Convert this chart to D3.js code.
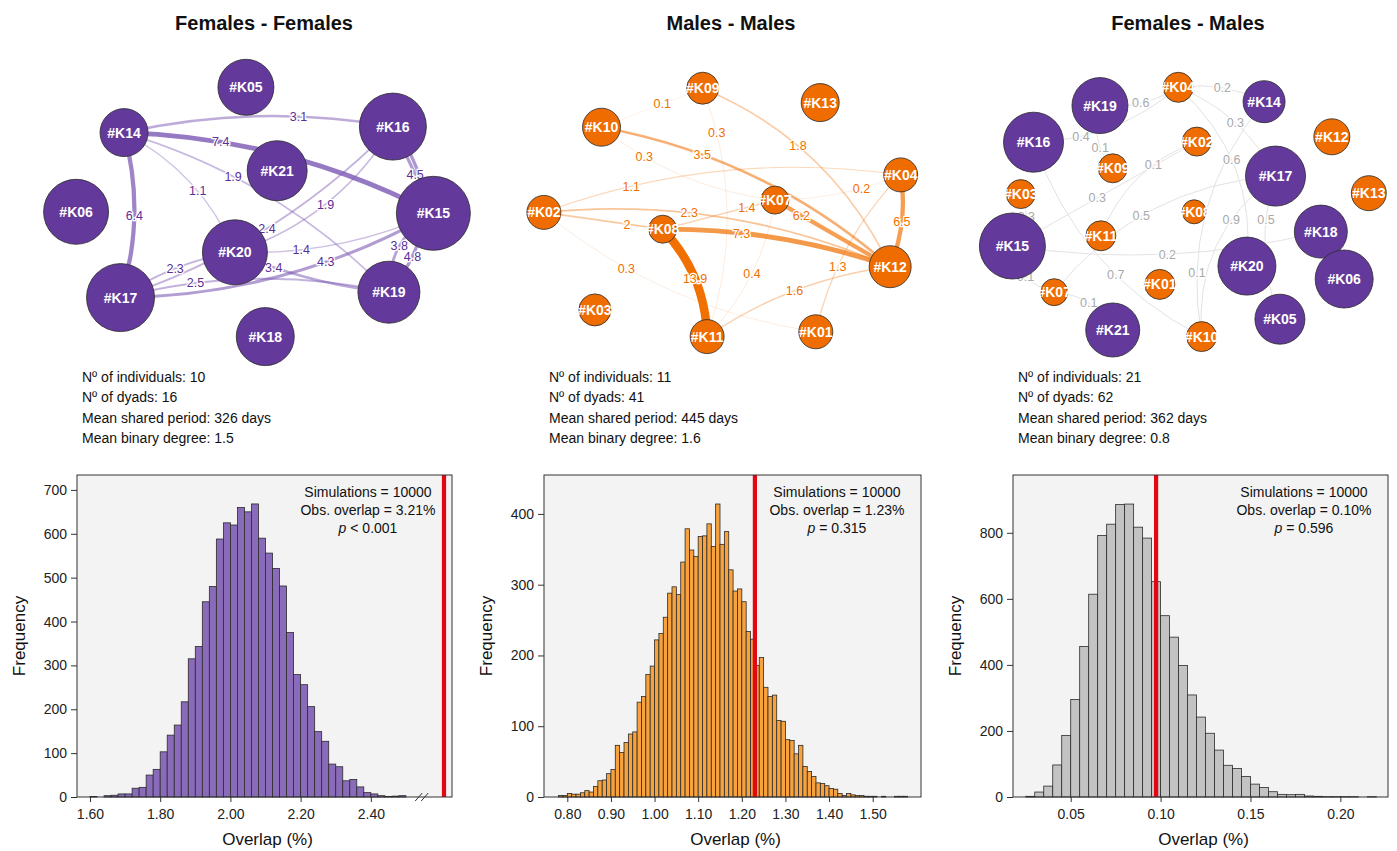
<!DOCTYPE html>
<html>
<head>
<meta charset="utf-8">
<script src="https://cdn.jsdelivr.net/npm/d3@7"></script>
<style>
    body { margin: 0; background: #fff; }
    svg text { font-family: "Liberation Sans", Arial, Helvetica, sans-serif; }
</style>
</head>
<body>
<svg id="fig" width="1397" height="851"></svg>
<script>
// ---------- data ----------
const panelTitles = ["Females - Females", "Males - Males", "Females - Males"]
const statLabels = ["Nº of individuals: ", "Nº of dyads: ", "Mean shared period: ", "Mean binary degree: "]
const statUnits = ["", "", " days", ""]
const ffStats = [10, 16, 326, 1.5]
const mmStats = [11, 41, 445, 1.6]
const fmStats = [21, 62, 362, 0.8]

// network nodes, layout in 0-100 units, node size
const ffNodes = ["#K05", "#K14", "#K16", "#K21", "#K06", "#K15", "#K20", "#K17", "#K19", "#K18"]
const ffLayout = [[46.8, 9.1], [19.1, 24.2], [80.2, 22.2], [53.9, 36.9], [8.2, 50.6],
    [89.4, 51.1], [44.3, 64.1], [18.3, 79.2], [79.3, 77.4], [51.2, 92.2]]
const ffSize = [28, 24, 33.5, 30, 32.5, 37, 32.5, 34, 31, 29]
const ffEdges = [
    ["#K14", "#K16", 3.1], ["#K14", "#K15", 7.4], ["#K14", "#K17", 6.4], ["#K14", "#K20", 1.1],
    ["#K14", "#K19", 1.9], ["#K17", "#K20", 2.3], ["#K17", "#K16", 2.4], ["#K20", "#K16", 1.9],
    ["#K17", "#K19", 2.5], ["#K17", "#K15", 4.3], ["#K20", "#K19", 3.4], ["#K20", "#K15", 1.4],
    ["#K15", "#K19", 3.8], ["#K16", "#K19", 4.8], ["#K16", "#K15", 4.5],
]

const mmNodes = ["#K09", "#K13", "#K10", "#K04", "#K07", "#K02", "#K08", "#K12", "#K03", "#K11", "#K01"]
const mmLayout = [[43.8, 9.4], [70.5, 14.2], [20.8, 22.4], [88.8, 38.3], [60.2, 46.7], [7.7, 50.8],
    [34.7, 56.4], [86.4, 68.9], [19.3, 83.3], [44.8, 92.2], [69.5, 90.6]]
const mmSize = [16, 19, 19, 17, 14, 17, 14, 21, 16, 17, 17]
const mmEdges = [
    ["#K10", "#K09", 0.1], ["#K09", "#K11", 0.3], ["#K09", "#K12", 1.8], ["#K10", "#K12", 3.5],
    ["#K10", "#K07", 0.3], ["#K02", "#K04", 1.1], ["#K07", "#K04", 0.2], ["#K07", "#K12", 6.2],
    ["#K08", "#K07", 1.4], ["#K02", "#K12", 2.3], ["#K02", "#K08", 2], ["#K08", "#K12", 7.3],
    ["#K02", "#K01", 0.3], ["#K08", "#K11", 13.9], ["#K11", "#K07", 0.4], ["#K04", "#K01", 1.3],
    ["#K04", "#K12", 6.5], ["#K11", "#K12", 1.6],
]

const fmNodes = ["#K04", "#K19", "#K14", "#K16", "#K02", "#K12", "#K09", "#K17", "#K03", "#K13", "#K08",
    "#K18", "#K11", "#K15", "#K20", "#K06", "#K01", "#K07", "#K05", "#K21", "#K10"]
const fmSex = ["M", "F", "F", "F", "M", "M", "M", "F", "M", "M", "M", "F", "M", "F", "F", "F", "M", "M", "F", "F", "M"]
const fmLayout = [[46.2, 9.1], [28.4, 15.2], [65.7, 13.9], [13.3, 27.4], [50.4, 27.2], [81.1, 25.6],
    [31.3, 36.1], [68.3, 38.7], [10.4, 44.7], [89.5, 44.4], [49.8, 50.6], [78.6, 57.2], [28.6, 58.6],
    [8.5, 62], [61.8, 68.7], [83.9, 73], [42, 74.8], [18, 77.4], [69.3, 86.4], [31.3, 90], [51.5, 92.2]]
const fmSize = [15, 28, 21, 30, 14.5, 18, 14.5, 30, 14.5, 17.5, 12, 26.5, 15, 33, 29, 29, 15, 13.5, 25, 27, 15]
const fmEdges = [
    ["#K04", "#K14", 0.2], ["#K19", "#K04", 0.6], ["#K04", "#K17", 0.3], ["#K16", "#K04", 0.4],
    ["#K19", "#K09", 0.1], ["#K02", "#K11", 0.1], ["#K04", "#K20", 0.6], ["#K15", "#K02", 0.3],
    ["#K15", "#K03", 0.3], ["#K17", "#K07", 0.5], ["#K17", "#K05", 0.5], ["#K17", "#K10", 0.9],
    ["#K15", "#K18", 0.2], ["#K16", "#K10", 0.7], ["#K14", "#K10", 0.1], ["#K15", "#K07", 0.1],
    ["#K07", "#K21", 0.1],
]

// randomisation histograms
const ffBinStart = 1.60, ffBinWidth = 0.02
const ffCounts = [1, 0, 3, 4, 7, 7, 20, 22, 50, 63,
    103, 141, 164, 217, 315, 343, 445, 480, 588, 625,
    620, 660, 650, 668, 590, 556, 521, 481, 375, 279,
    256, 206, 149, 127, 75, 69, 37, 40, 23, 10,
    7, 3, 1, 2, 3]
const mmBinStart = 0.78, mmBinWidth = 0.01
const mmCounts = [2, 2, 5, 4, 4, 6, 9, 7, 15, 23, 24, 33,
    39, 73, 63, 77, 89, 92, 134, 142, 173, 185,
    222, 231, 254, 288, 297, 286, 332, 379, 349, 340,
    368, 369, 386, 354, 414, 357, 375, 321, 291, 294,
    276, 234, 223, 186, 197, 155, 142, 144, 108, 107,
    81, 80, 61, 73, 43, 36, 29, 20, 19, 16,
    12, 11, 5, 2, 5, 3, 2, 2, 1, 1,
    1, 0, 1, 0, 0, 1, 1, 1]
const fmBinStart = 0.025, fmBinWidth = 0.005
const fmCounts = [2, 15, 33, 97, 186, 295, 456, 614, 792, 826,
    886, 887, 817, 784, 652, 549, 484, 398, 309, 242,
    193, 142, 96, 86, 62, 39, 29, 16, 8, 7,
    8, 3, 2, 1, 1, 1, 1, 0, 1]

const simulations = 10000
const observed = [3.21, 1.23, 0.0975]
const observedText = ["3.21%", "1.23%", "0.10%"]
const pText = ["< 0.001", "= 0.315", "= 0.596"]
const ffXTicks = [1.6, 1.8, 2.0, 2.2, 2.4]
const mmXTicks = [0.8, 0.9, 1.0, 1.1, 1.2, 1.3, 1.4, 1.5]
const fmXTicks = [0.05, 0.10, 0.15, 0.20]
const ffYTicks = [0, 100, 200, 300, 400, 500, 600, 700]
const mmYTicks = [0, 100, 200, 300, 400]
const fmYTicks = [0, 200, 400, 600, 800]

// ---------- styles ----------
const FEMALE = "#633a9b"
const MALE = "#ef6c00"

// edge bends: [curvature, label position along edge]
const ffBend = {
    "#K14>#K16": [-0.05, 0.65], "#K14>#K15": [-0.057, 0.3], "#K14>#K17": [-0.073, 0.5],
    "#K14>#K20": [-0.09, 0.57], "#K14>#K19": [-0.065, 0.375], "#K17>#K20": [-0.057, 0.5],
    "#K17>#K16": [0.06, 0.5], "#K20>#K16": [0.093, 0.5], "#K17>#K19": [-0.06, 0.28],
    "#K17>#K15": [0.064, 0.64], "#K20>#K19": [0.04, 0.26], "#K20>#K15": [0.058, 0.324],
    "#K15>#K19": [0.15, 0.5], "#K16>#K19": [-0.2, 0.78], "#K16>#K15": [0, 0.55],
}
const mmBend = {
    "#K10>#K09": [0, 0.6], "#K09>#K11": [-0.09, 0.18], "#K09>#K12": [-0.095, 0.42],
    "#K10>#K12": [-0.069, 0.32], "#K10>#K07": [0.072, 0.27], "#K02>#K04": [-0.063, 0.25],
    "#K07>#K04": [0.05, 0.68], "#K07>#K12": [0, 0.23], "#K08>#K07": [0, 0.75],
    "#K02>#K12": [-0.065, 0.41], "#K02>#K08": [0, 0.7], "#K08>#K12": [-0.043, 0.34],
    "#K02>#K01": [0.069, 0.33], "#K08>#K11": [-0.095, 0.5], "#K11>#K07": [0.08, 0.5],
    "#K04>#K01": [0.07, 0.62], "#K04>#K12": [-0.07, 0.5], "#K11>#K12": [-0.06, 0.5],
}
const fmBend = {
    "#K04>#K14": [-0.08, 0.5], "#K19>#K04": [0.085, 0.5], "#K04>#K17": [-0.095, 0.5],
    "#K16>#K04": [0.088, 0.3], "#K19>#K09": [0.14, 0.65], "#K02>#K11": [0.115, 0.35],
    "#K04>#K20": [-0.127, 0.45], "#K15>#K02": [0, 0.46], "#K15>#K03": [0.18, 0.6],
    "#K17>#K07": [0.11, 0.55], "#K17>#K05": [0.09, 0.3], "#K17>#K10": [0.14, 0.33],
    "#K15>#K18": [0.05, 0.5], "#K16>#K10": [0.1, 0.6], "#K14>#K10": [0.115, 0.75],
    "#K15>#K07": [0.17, 0.5], "#K07>#K21": [-0.14, 0.5],
}

const panels = [
    { cx: 264, netX: 40, statX: 82, box: [77, 452], stats: ffStats },
    { cx: 731, netX: 510, statX: 549, box: [544, 921], stats: mmStats },
    { cx: 1188, netX: 975, statX: 1018, box: [1013, 1388], stats: fmStats },
]

const svg = d3.select("#fig")
const BOX_TOP = 475, BOX_BOTTOM = 797

// ---------- titles and summaries ----------
panels.forEach((p, i) => {
    svg.append("text")
        .attr("x", p.cx).attr("y", 30)
        .attr("text-anchor", "middle")
        .style("font-size", "20px").style("font-weight", "bold").style("fill", "#111")
        .text(panelTitles[i])

    svg.append("g").selectAll("text")
        .data(p.stats)
        .join("text")
        .attr("x", p.statX)
        .attr("y", (d, k) => 382 + k * 20.4)
        .style("font-size", "14px").style("fill", "#111")
        .text((d, k) => statLabels[k] + d + statUnits[k])
})

// ---------- networks ----------
function drawNetwork(p, nodes, layout, size, colors, edges, bend, look) {
    const x = d3.scaleLinear().domain([0, 100]).range([p.netX, p.netX + 440])
    const y = d3.scaleLinear().domain([0, 100]).range([60, 360])
    const r = d3.scaleLinear().domain([0, 40]).range([0, 40])
    const pos = new Map(nodes.map((n, i) => [n, [x(layout[i][0]), y(layout[i][1])]]))

    const geo = edges.map(([s, t, w]) => {
        const a = pos.get(s), b = pos.get(t)
        const [c, lt] = bend[s + ">" + t] || [0, 0.5]
        const dx = b[0] - a[0], dy = b[1] - a[1]
        const ctrl = [(a[0] + b[0]) / 2 - dy * 2 * c, (a[1] + b[1]) / 2 + dx * 2 * c]
        const at = u => [
            (1 - u) * (1 - u) * a[0] + 2 * u * (1 - u) * ctrl[0] + u * u * b[0],
            (1 - u) * (1 - u) * a[1] + 2 * u * (1 - u) * ctrl[1] + u * u * b[1],
        ]
        return { a, b, ctrl, w, label: at(lt) }
    }).sort((m, n) => m.w - n.w)

    const g = svg.append("g")
    g.append("g").selectAll("path")
        .data(geo)
        .join("path")
        .attr("d", d => {
            const path = d3.path()
            path.moveTo(d.a[0], d.a[1])
            path.quadraticCurveTo(d.ctrl[0], d.ctrl[1], d.b[0], d.b[1])
            return path.toString()
        })
        .attr("fill", "none")
        .attr("stroke", look.edge)
        .attr("stroke-opacity", d => look.opacity(d.w))
        .attr("stroke-width", d => look.width(d.w))
        .attr("stroke-linecap", "round")

    g.append("g").selectAll("text")
        .data(geo)
        .join("text")
        .attr("x", d => d.label[0])
        .attr("y", d => d.label[1])
        .attr("dy", "0.35em")
        .attr("text-anchor", "middle")
        .style("font-size", "12.5px")
        .style("fill", look.labelColor)
        .style("stroke", "#fff").style("stroke-width", 2.5).style("paint-order", "stroke")
        .text(d => String(d.w))

    const nodeData = nodes.map((n, i) => ({ id: n, p: pos.get(n), r: r(size[i]), fill: colors[i] }))
    g.append("g").selectAll("circle")
        .data(nodeData)
        .join("circle")
        .attr("cx", d => d.p[0]).attr("cy", d => d.p[1]).attr("r", d => d.r)
        .attr("fill", d => d.fill)
        .attr("stroke", "#2a2a2a").attr("stroke-width", 0.8)

    g.append("g").selectAll("text")
        .data(nodeData)
        .join("text")
        .attr("x", d => d.p[0]).attr("y", d => d.p[1])
        .attr("dy", "0.36em")
        .attr("text-anchor", "middle")
        .style("font-size", "14px").style("font-weight", "bold").style("fill", "#fff")
        .text(d => d.id)
}

const widthScale = d3.scaleLinear().domain([0, 14]).range([0.6, 8.6])

drawNetwork(panels[0], ffNodes, ffLayout, ffSize, ffNodes.map(() => FEMALE), ffEdges, ffBend, {
    edge: "#7a56b3",
    opacity: d3.scaleLinear().domain([1, 7.5]).range([0.35, 0.8]).clamp(true),
    width: widthScale,
    labelColor: "#5a2f95",
})
drawNetwork(panels[1], mmNodes, mmLayout, mmSize, mmNodes.map(() => MALE), mmEdges, mmBend, {
    edge: "#f07000",
    opacity: d3.scaleLinear().domain([0.1, 3.5, 14]).range([0.15, 0.55, 1]).clamp(true),
    width: widthScale,
    labelColor: "#f07000",
})
drawNetwork(panels[2], fmNodes, fmLayout, fmSize, fmSex.map(s => s === "F" ? FEMALE : MALE), fmEdges, fmBend, {
    edge: "#e3e3e3",
    opacity: () => 1,
    width: () => 1,
    labelColor: "#a9a9a9",
})

// ---------- histograms ----------
function drawHist(p, x, yMax, counts, start, step, fill, xTicks, yTicks, i) {
    const y = d3.scaleLinear().domain([0, yMax]).range([BOX_BOTTOM, BOX_TOP])
    const g = svg.append("g")
    const [x0, x1] = p.box

    g.append("rect")
        .attr("x", x0).attr("y", BOX_TOP)
        .attr("width", x1 - x0).attr("height", BOX_BOTTOM - BOX_TOP)
        .attr("fill", "#f3f3f3")

    const bins = counts.map((n, k) => ({ a: start + k * step, b: start + (k + 1) * step, n }))
        .filter(d => d.n > 0)
    g.append("g").selectAll("rect")
        .data(bins)
        .join("rect")
        .attr("x", d => x(d.a))
        .attr("width", d => x(d.b) - x(d.a))
        .attr("y", d => y(d.n))
        .attr("height", d => y(0) - y(d.n))
        .attr("fill", fill)
        .attr("stroke", "#2b2b2b").attr("stroke-width", 0.8)

    g.append("line")
        .attr("x1", x(observed[i])).attr("x2", x(observed[i]))
        .attr("y1", BOX_TOP).attr("y2", BOX_BOTTOM)
        .attr("stroke", "#e30613").attr("stroke-width", 4.2)

    g.append("rect")
        .attr("x", x0).attr("y", BOX_TOP)
        .attr("width", x1 - x0).attr("height", BOX_BOTTOM - BOX_TOP)
        .attr("fill", "none").attr("stroke", "#333").attr("stroke-width", 1)

    const xa = g.append("g")
        .attr("transform", `translate(0,${BOX_BOTTOM})`)
        .call(d3.axisBottom(x).tickValues(xTicks).tickFormat(d3.format(".2f")).tickSize(5).tickPadding(7))
    const ya = g.append("g")
        .attr("transform", `translate(${x0},0)`)
        .call(d3.axisLeft(y).tickValues(yTicks).tickSize(6).tickPadding(4))
    ;[xa, ya].forEach(a => {
        a.select(".domain").remove()
        a.selectAll("line").attr("stroke", "#333")
        a.selectAll("text").style("font-size", "14px").style("fill", "#222")
            .style("font-family", "'Liberation Sans', Arial, sans-serif")
    })

    g.append("text")
        .attr("x", (x0 + x1) / 2 + 3).attr("y", 845)
        .attr("text-anchor", "middle")
        .style("font-size", "17px").style("fill", "#111")
        .text("Overlap (%)")
    g.append("text")
        .attr("transform", `translate(${x0 - 52},${636}) rotate(-90)`)
        .attr("text-anchor", "middle")
        .style("font-size", "17px").style("fill", "#111")
        .text("Frequency")

    const ax = x1 - 84
    const notes = g.append("g").attr("text-anchor", "middle")
        .style("font-size", "14px").style("fill", "#111")
    notes.append("text").attr("x", ax).attr("y", 497).text("Simulations = " + simulations)
    notes.append("text").attr("x", ax).attr("y", 515).text("Obs. overlap = " + observedText[i])
    const pt = notes.append("text").attr("x", ax).attr("y", 533)
    pt.append("tspan").style("font-style", "italic").text("p")
    pt.append("tspan").text(" " + pText[i])
    return { g, x }
}

// left panel uses a broken x axis to reach the observed value
const ffX = d3.scaleLinear().domain([1.563, 2.56, 3.21, 3.25]).range([77, 427, 444, 452])
const ff = drawHist(panels[0], ffX, 734, ffCounts, ffBinStart, ffBinWidth, "#8a6bba", ffXTicks, ffYTicks, 0)
const brk = ffX(2.545)
ff.g.append("g").selectAll("line")
    .data([-3, 3])
    .join("line")
    .attr("x1", d => brk + d - 3.5).attr("x2", d => brk + d + 3.5)
    .attr("y1", BOX_BOTTOM + 4).attr("y2", BOX_BOTTOM - 4)
    .attr("stroke", "#333").attr("stroke-width", 1)

const mmX = d3.scaleLinear().domain([0.7466, 1.6107]).range([544, 921])
drawHist(panels[1], mmX, 455, mmCounts, mmBinStart, mmBinWidth, "#f7a23c", mmXTicks, mmYTicks, 1)

const fmX = d3.scaleLinear().domain([0.0179, 0.2265]).range([1013, 1388])
drawHist(panels[2], fmX, 975, fmCounts, fmBinStart, fmBinWidth, "#c3c3c3", fmXTicks, fmYTicks, 2)
</script>
</body>
</html>
